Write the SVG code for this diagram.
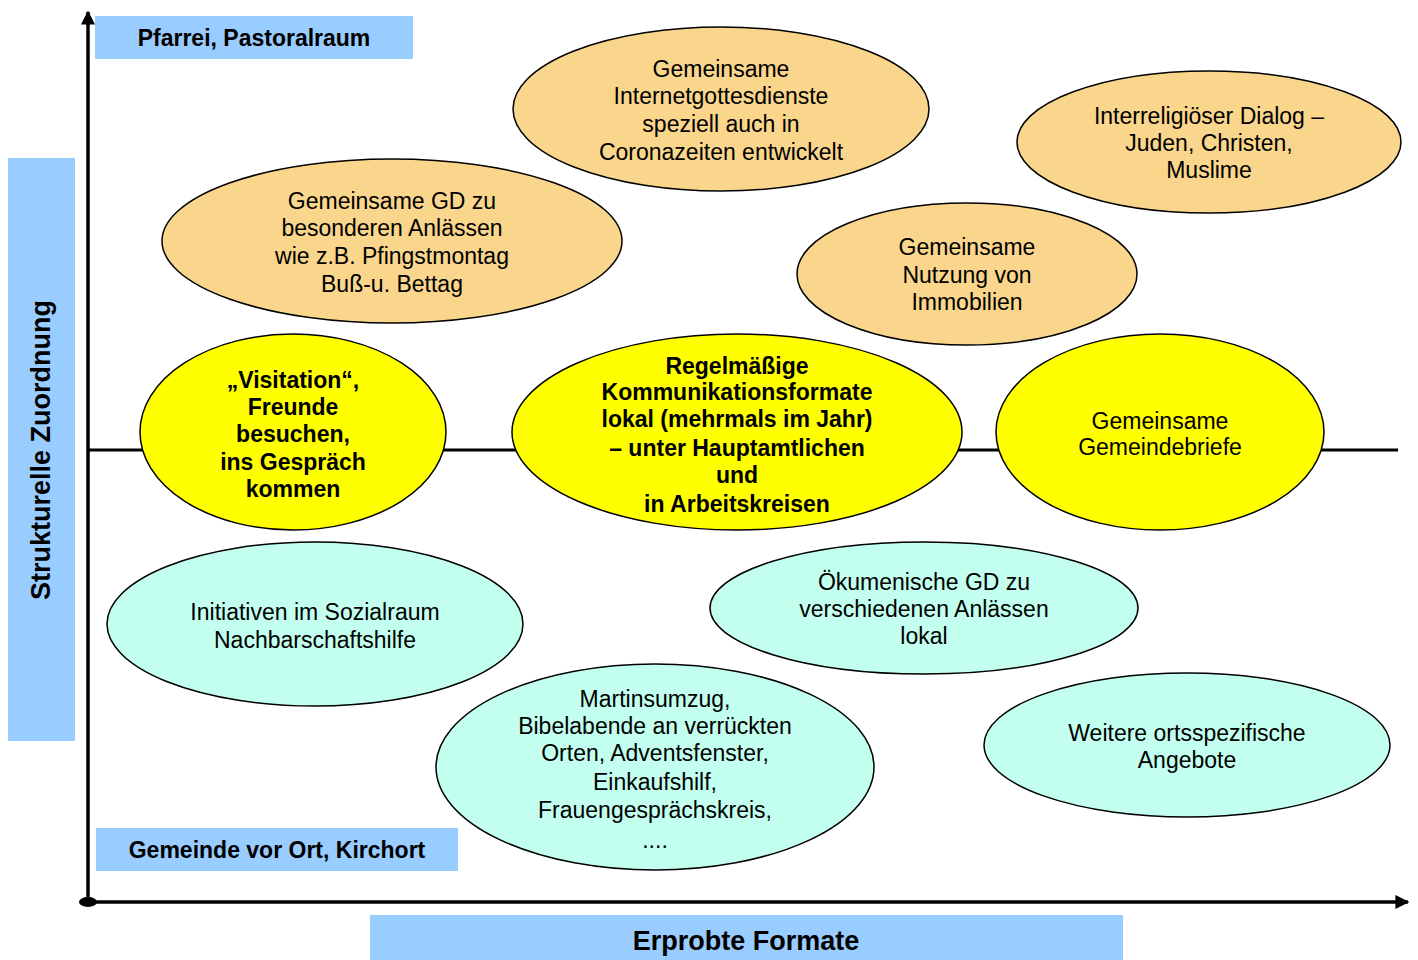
<svg xmlns="http://www.w3.org/2000/svg" width="1418" height="960" viewBox="0 0 1418 960">
<defs>
<style>
.lbl{fill:#99CCFF}
.lt{font-family:"Liberation Sans",Arial,sans-serif;font-weight:bold;fill:#000;text-anchor:middle}
.el{stroke:#000;stroke-width:1.5}
.o{fill:#FAD58C}
.y{fill:#FFFF00}
.t{fill:#C2FFEE}
.tx{font-family:"Liberation Sans",Arial,sans-serif;font-size:23px;fill:#000;text-anchor:middle}
.b{font-weight:bold}
.ax{stroke:#000;stroke-width:3.5;fill:none}
</style>
<marker id="arr" viewBox="0 0 10 10" refX="9" refY="5" markerWidth="4" markerHeight="4" orient="auto" markerUnits="strokeWidth">
<path d="M0,0 L10,5 L0,10 z" fill="#000"/>
</marker>
</defs>
<rect width="1418" height="960" fill="#fff"/>
<g id="connectors">
<line class="ax" x1="88" y1="450" x2="1398" y2="450" style="stroke-width:3"/>
<line class="ax" x1="88" y1="902" x2="88" y2="12" marker-end="url(#arr)"/>
<line class="ax" x1="88" y1="902" x2="1408" y2="902" marker-end="url(#arr)"/>
<ellipse cx="88" cy="902" rx="9" ry="5" fill="#000"/>
</g>
<g id="label-pfarrei"><rect class="lbl" x="95" y="16" width="318" height="43"/><text class="lt" x="254" y="46" font-size="23">Pfarrei, Pastoralraum</text></g>
<g id="label-gemeinde"><rect class="lbl" x="96" y="828" width="362" height="43"/><text class="lt" x="277" y="858" font-size="23">Gemeinde vor Ort, Kirchort</text></g>
<g id="label-formate"><rect class="lbl" x="370" y="915" width="753" height="45"/><text class="lt" x="746" y="950" font-size="27">Erprobte Formate</text></g>
<g id="label-struktur"><rect class="lbl" x="8" y="158" width="67" height="583"/><text class="lt" font-size="27" transform="translate(50,450) rotate(-90)">Strukturelle Zuordnung</text></g>

<g id="n-internet"><ellipse class="el o" cx="721" cy="109" rx="208" ry="82"/>
<text class="tx"><tspan x="721" y="77">Gemeinsame</tspan><tspan x="721" y="104">Internetgottesdienste</tspan><tspan x="721" y="132">speziell auch in</tspan><tspan x="721" y="160">Coronazeiten entwickelt</tspan></text></g>
<g id="n-interreligioes"><ellipse class="el o" cx="1209" cy="142" rx="192" ry="71"/>
<text class="tx"><tspan x="1209" y="124">Interreligiöser Dialog –</tspan><tspan x="1209" y="151">Juden, Christen,</tspan><tspan x="1209" y="178">Muslime</tspan></text></g>
<g id="n-gd-anlaesse"><ellipse class="el o" cx="392" cy="241" rx="230" ry="82"/>
<text class="tx"><tspan x="392" y="209">Gemeinsame GD zu</tspan><tspan x="392" y="236">besonderen Anlässen</tspan><tspan x="392" y="264">wie z.B. Pfingstmontag</tspan><tspan x="392" y="292">Buß-u. Bettag</tspan></text></g>
<g id="n-immobilien"><ellipse class="el o" cx="967" cy="274" rx="170" ry="71"/>
<text class="tx"><tspan x="967" y="255">Gemeinsame</tspan><tspan x="967" y="283">Nutzung von</tspan><tspan x="967" y="310">Immobilien</tspan></text></g>
<g id="n-visitation"><ellipse class="el y" cx="293" cy="432" rx="153" ry="98"/>
<text class="tx b"><tspan x="293" y="388">„Visitation“,</tspan><tspan x="293" y="415">Freunde</tspan><tspan x="293" y="442">besuchen,</tspan><tspan x="293" y="470">ins Gespräch</tspan><tspan x="293" y="497">kommen</tspan></text></g>
<g id="n-regelmaessig"><ellipse class="el y" cx="737" cy="432" rx="225" ry="98"/>
<text class="tx b"><tspan x="737" y="374">Regelmäßige</tspan><tspan x="737" y="400">Kommunikationsformate</tspan><tspan x="737" y="427">lokal (mehrmals im Jahr)</tspan><tspan x="737" y="456">– unter Hauptamtlichen</tspan><tspan x="737" y="483">und</tspan><tspan x="737" y="512">in Arbeitskreisen</tspan></text></g>
<g id="n-gemeindebriefe"><ellipse class="el y" cx="1160" cy="432" rx="164" ry="98"/>
<text class="tx"><tspan x="1160" y="429">Gemeinsame</tspan><tspan x="1160" y="455">Gemeindebriefe</tspan></text></g>
<g id="n-initiativen"><ellipse class="el t" cx="315" cy="624" rx="208" ry="82"/>
<text class="tx"><tspan x="315" y="620">Initiativen im Sozialraum</tspan><tspan x="315" y="648">Nachbarschaftshilfe</tspan></text></g>
<g id="n-oekumenisch"><ellipse class="el t" cx="924" cy="608" rx="214" ry="66"/>
<text class="tx"><tspan x="924" y="590">Ökumenische GD zu</tspan><tspan x="924" y="617">verschiedenen Anlässen</tspan><tspan x="924" y="644">lokal</tspan></text></g>
<g id="n-martinsumzug"><ellipse class="el t" cx="655" cy="767" rx="219" ry="103"/>
<text class="tx"><tspan x="655" y="707">Martinsumzug,</tspan><tspan x="655" y="734">Bibelabende an verrückten</tspan><tspan x="655" y="761">Orten, Adventsfenster,</tspan><tspan x="655" y="790">Einkaufshilf,</tspan><tspan x="655" y="818">Frauengesprächskreis,</tspan><tspan x="655" y="848">....</tspan></text></g>
<g id="n-weitere"><ellipse class="el t" cx="1187" cy="745" rx="203" ry="72"/>
<text class="tx"><tspan x="1187" y="741">Weitere ortsspezifische</tspan><tspan x="1187" y="768">Angebote</tspan></text></g>
</svg>
